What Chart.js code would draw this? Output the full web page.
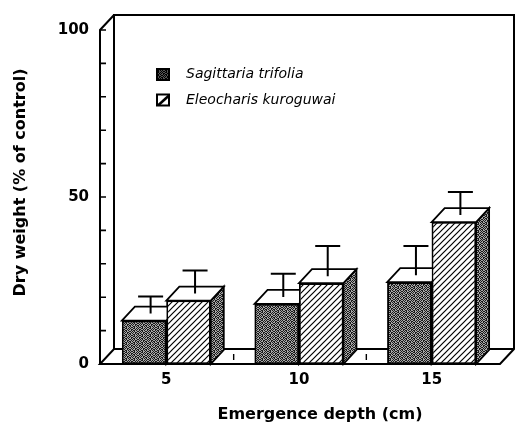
<!DOCTYPE html>
<html><head><meta charset="utf-8">
<script src="https://cdn.jsdelivr.net/npm/chart.js@4.4.1/dist/chart.umd.min.js"></script>
<style>html,body{margin:0;padding:0;background:#fff;} canvas{display:block;}</style>
</head><body>
<canvas id="c" width="515" height="424"></canvas>
<script>
// ---- data ----
const categories = ['5', '10', '15'];
const sagittaria = [13, 18, 24.5];
const eleocharis = [19, 24.2, 42.5];
const sagittariaErr = [5.1, 6.9, 8.7];
const eleocharisErr = [6.9, 9.0, 6.9];
const yLabelled = [0, 50, 100];
const seriesNames = ['Sagittaria trifolia', 'Eleocharis kuroguwai'];
const xTitle = 'Emergence depth (cm)';
const yTitle = 'Dry weight (% of control)';

// ---- styling ----
const DX = 13, DY = -14;      // bar depth
const FX = 14, FY = -15;      // frame depth
const BOLD = '"DejaVu Sans", sans-serif';

function stipplePattern(ctx, dark, light) {
  const rows = [
    '10100110',
    '01011001',
    '10010110',
    '01101010',
    '10010101',
    '01101001',
    '10100110',
    '01011010'
  ];
  const c = document.createElement('canvas');
  c.width = 8; c.height = 8;
  const g = c.getContext('2d');
  for (let y = 0; y < 8; y++) for (let x = 0; x < 8; x++) {
    g.fillStyle = rows[y][x] === '1' ? dark : light;
    g.fillRect(x, y, 1, 1);
  }
  return ctx.createPattern(c, 'repeat');
}
function hatchPattern(ctx) {
  const c = document.createElement('canvas');
  c.width = 6; c.height = 6;
  const g = c.getContext('2d');
  g.fillStyle = '#fff'; g.fillRect(0, 0, 6, 6);
  g.strokeStyle = '#000'; g.lineWidth = 1.2;
  g.beginPath();
  g.moveTo(-1, 7); g.lineTo(7, -1);
  g.moveTo(-1, 1); g.lineTo(1, -1);
  g.moveTo(5, 7); g.lineTo(7, 5);
  g.stroke();
  return ctx.createPattern(c, 'repeat');
}

const canvas = document.getElementById('c');
const ctx0 = canvas.getContext('2d');
const STIPPLE = stipplePattern(ctx0, '#1a1a1a', '#a6a6a6');
const STIPPLE_DARK = stipplePattern(ctx0, '#000000', '#555555');
const HATCH = hatchPattern(ctx0);

const frame3d = {
  id: 'frame3d',
  beforeDatasetsDraw(chart) {
    const {ctx, chartArea: a, scales: {x, y}} = chart;
    ctx.save();
    ctx.strokeStyle = '#000';
    ctx.lineWidth = 2;
    ctx.lineJoin = 'miter';
    // floor
    ctx.beginPath();
    ctx.moveTo(a.left, a.bottom);
    ctx.lineTo(a.right + 2, a.bottom);
    ctx.lineTo(a.right + 2 + FX, a.bottom + FY);
    ctx.lineTo(a.left + FX, a.bottom + FY);
    ctx.closePath();
    ctx.stroke();
    // back wall
    ctx.beginPath();
    ctx.moveTo(a.left + FX, a.bottom + FY);
    ctx.lineTo(a.left + FX, a.top + FY);
    ctx.lineTo(a.right + 2 + FX, a.top + FY);
    ctx.lineTo(a.right + 2 + FX, a.bottom + FY);
    ctx.stroke();
    // front axis and top diagonal
    ctx.beginPath();
    ctx.moveTo(a.left, a.bottom);
    ctx.lineTo(a.left, a.top);
    ctx.lineTo(a.left + FX, a.top + FY);
    ctx.stroke();
    // ticks
    ctx.lineWidth = 1.6;
    ctx.beginPath();
    y.ticks.forEach(t => {
      const py = y.getPixelForValue(t.value);
      ctx.moveTo(a.left, py); ctx.lineTo(a.left + 6, py);
    });
    ctx.stroke();
    // floor separators between categories
    ctx.lineWidth = 1.4;
    ctx.beginPath();
    for (let i = 0; i < categories.length - 1; i++) {
      const b = (x.getPixelForValue(i) + x.getPixelForValue(i + 1)) / 2;
      ctx.moveTo(b + 1, a.bottom - 4); ctx.lineTo(b + 1, a.bottom - 10);
    }
    ctx.stroke();
    ctx.restore();
  },
  afterDatasetsDraw(chart) {
    const {ctx, scales: {y}} = chart;
    const metas = chart.data.datasets.map((d, k) => chart.getDatasetMeta(k));
    ctx.save();
    ctx.strokeStyle = '#000';
    ctx.lineJoin = 'miter';
    // painter's order: category by category, left bar first
    categories.forEach((c, i) => {
      metas.forEach((meta, k) => {
        const ds = chart.data.datasets[k];
        const bar = meta.data[i];
        bar.draw(ctx);   // front face, drawn by the library element
        const p = bar.getProps(['x', 'y', 'base', 'width'], true);
        const x0 = p.x - p.width / 2, x1 = p.x + p.width / 2;
        const yt = p.y, yb = p.base;
        ctx.strokeStyle = '#000';
        ctx.lineWidth = 1.8;
        // side face
        ctx.beginPath();
        ctx.moveTo(x1, yt); ctx.lineTo(x1 + DX, yt + DY);
        ctx.lineTo(x1 + DX, yb + DY); ctx.lineTo(x1, yb);
        ctx.closePath();
        ctx.fillStyle = STIPPLE; ctx.fill(); ctx.stroke();
        // top face
        ctx.beginPath();
        ctx.moveTo(x0, yt); ctx.lineTo(x1, yt);
        ctx.lineTo(x1 + DX, yt + DY); ctx.lineTo(x0 + DX, yt + DY);
        ctx.closePath();
        ctx.fillStyle = '#fff'; ctx.fill(); ctx.stroke();
        // error bar
        const cx = p.x + DX / 2;
        const ys = yt + DY / 2;
        const ye = y.getPixelForValue(ds.data[i] + ds.errors[i]) + DY / 2;
        ctx.lineWidth = 2;
        ctx.beginPath();
        ctx.moveTo(cx, ys); ctx.lineTo(cx, ye);
        ctx.moveTo(cx - 12.5, ye); ctx.lineTo(cx + 12.5, ye);
        ctx.stroke();
      });
    });
    ctx.restore();
  },
  afterDraw(chart) {
    const {ctx} = chart;
    ctx.save();
    // legend
    seriesNames.forEach((name, k) => {
      const bx = 157, by = 69 + k * 25.5, bw = 12, bh = 11;
      if (k === 0) {
        ctx.fillStyle = STIPPLE_DARK;
        ctx.fillRect(bx, by, bw, bh);
      } else {
        ctx.fillStyle = '#fff';
        ctx.fillRect(bx, by, bw, bh);
        ctx.save();
        ctx.beginPath(); ctx.rect(bx, by, bw, bh); ctx.clip();
        ctx.strokeStyle = '#000'; ctx.lineWidth = 2.6;
        ctx.beginPath();
        ctx.moveTo(bx + 1, by + bh); ctx.lineTo(bx + bw, by + 1);
        ctx.stroke();
        ctx.restore();
      }
      ctx.strokeStyle = '#000'; ctx.lineWidth = 2;
      ctx.strokeRect(bx, by, bw, bh);
      ctx.fillStyle = '#000';
      ctx.font = 'italic 14px "DejaVu Sans", sans-serif';
      ctx.textAlign = 'left'; ctx.textBaseline = 'middle';
      ctx.fillText(name, 186, by + 5.5);
    });
    // axis titles
    ctx.fillStyle = '#000';
    ctx.font = 'bold 16px ' + BOLD;
    ctx.textAlign = 'center'; ctx.textBaseline = 'alphabetic';
    ctx.fillText(xTitle, 320, 419);
    ctx.translate(25, 182.5);
    ctx.rotate(-Math.PI / 2);
    ctx.fillText(yTitle, 0, 0);
    ctx.restore();
  }
};

new Chart(canvas, {
  type: 'bar',
  data: {
    labels: categories,
    datasets: [
      { label: seriesNames[0], data: sagittaria, errors: sagittariaErr,
        backgroundColor: STIPPLE, borderColor: '#000', borderWidth: 1.8, borderSkipped: false },
      { label: seriesNames[1], data: eleocharis, errors: eleocharisErr,
        backgroundColor: HATCH, borderColor: '#000', borderWidth: 1.8, borderSkipped: false }
    ]
  },
  options: {
    responsive: false,
    devicePixelRatio: 1,
    animation: false,
    layout: { padding: { top: 30, right: 17, left: 0, bottom: 0 } },
    datasets: { bar: { categoryPercentage: 0.67, barPercentage: 1 } },
    plugins: { legend: { display: false }, tooltip: { enabled: false } },
    scales: {
      x: {
        grid: { display: false, drawTicks: false },
        border: { display: false },
        ticks: { color: '#000', font: { family: BOLD, weight: 'bold', size: 15 }, padding: 7, maxRotation: 0 },
        afterFit(s) { s.height = 60; }
      },
      y: {
        min: 0, max: 100,
        grid: { display: false, drawTicks: false },
        border: { display: false },
        ticks: {
          stepSize: 10, autoSkip: false, color: '#000', padding: 11,
          font: { family: BOLD, weight: 'bold', size: 15 },
          callback: v => yLabelled.includes(v) ? String(v) : ''
        },
        afterFit(s) { s.width = 100; }
      }
    }
  },
  plugins: [frame3d]
});
</script>
</body></html>
